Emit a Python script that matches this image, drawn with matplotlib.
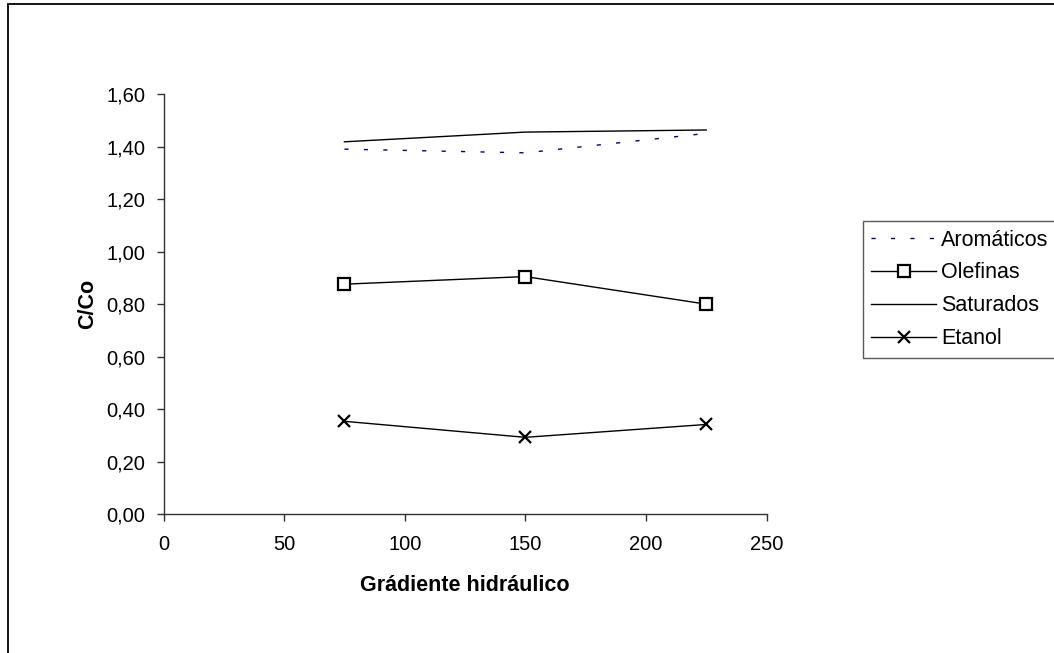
import matplotlib
matplotlib.use("Agg")
import matplotlib.pyplot as plt
from matplotlib.patches import Rectangle
from matplotlib.ticker import FuncFormatter, MultipleLocator

plt.rcParams['font.family'] = ['Liberation Sans', 'DejaVu Sans']

# Hydraulic gradient values and relative concentrations C/Co
gradiente = [75, 150, 225]
aromaticos = [1.39, 1.376, 1.45]
olefinas = [0.876, 0.905, 0.80]
saturados = [1.418, 1.455, 1.463]
etanol = [0.354, 0.293, 0.342]

W, H = 1054, 653
fig = plt.figure(figsize=(W / 100, H / 100), dpi=100)

# Outer chart-area frame
fig.patches.append(Rectangle((8 / W, -0.1), 1.2, 1.1 - 3.5 / H,
                             transform=fig.transFigure, fill=False,
                             edgecolor='black', linewidth=1.3, clip_on=False))

left, right = 163.5 / W, 766.5 / W
bottom, top = 1 - 514.3 / H, 1 - 94 / H
ax = fig.add_axes([left, bottom, right - left, top - bottom])

ax.plot(gradiente, aromaticos, color='#000080', linewidth=1.0,
        linestyle=(0, (3, 11)), label='Aromáticos')
ax.plot(gradiente, olefinas, color='black', linewidth=1.0, marker='s',
        markersize=8, markerfacecolor='white', markeredgecolor='black',
        markeredgewidth=1.6, label='Olefinas')
ax.plot(gradiente, saturados, color='black', linewidth=1.0, label='Saturados')
ax.plot(gradiente, etanol, color='black', linewidth=1.0, marker='x',
        markersize=9, markeredgewidth=1.6, label='Etanol')

ax.set_xlim(0, 250)
ax.set_ylim(0, 1.6)
ax.xaxis.set_major_locator(MultipleLocator(50))
ax.yaxis.set_major_locator(MultipleLocator(0.2))
ax.yaxis.set_major_formatter(FuncFormatter(lambda v, p: f"{v:.2f}".replace('.', ',')))

for s in ('top', 'right'):
    ax.spines[s].set_visible(False)
for s in ('left', 'bottom'):
    ax.spines[s].set_color('#303030')
    ax.spines[s].set_linewidth(1.0)
ax.tick_params(axis='both', direction='out', length=5, width=1.0,
               color='#303030', labelsize=14.5)
ax.tick_params(axis='x', pad=10)
ax.tick_params(axis='y', pad=8)

ax.set_xlabel('Grádiente hidráulico', fontsize=15.5, fontweight='bold', labelpad=15)
ax.set_ylabel('C/Co', fontsize=15.5, fontweight='bold', labelpad=6)

leg = fig.legend(loc='upper left', bbox_to_anchor=(862.7 / W, 1 - 221 / H),
                 bbox_transform=fig.transFigure, borderaxespad=0,
                 frameon=True, fancybox=False, fontsize=15.5,
                 handlelength=3.0, handletextpad=0.25, labelspacing=0.55,
                 borderpad=0.4)
leg.get_frame().set_edgecolor('#303030')
leg.get_frame().set_linewidth(1.0)

fig.savefig('out.png', dpi=100)
